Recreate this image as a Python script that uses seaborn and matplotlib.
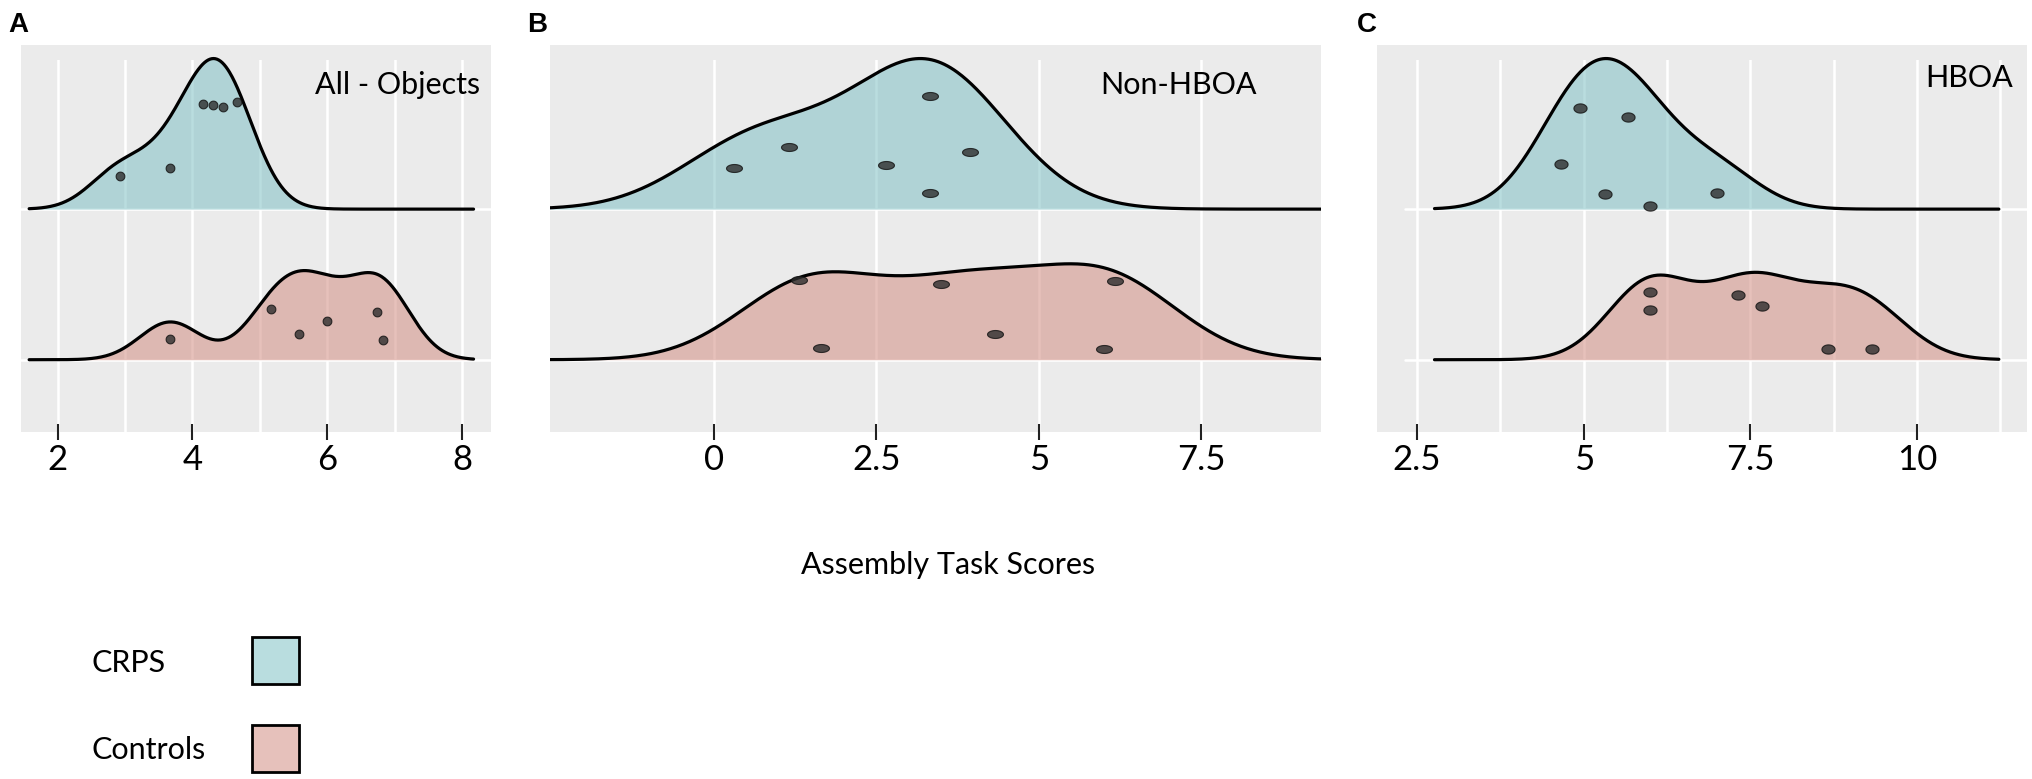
import numpy as np
import seaborn as sns
import matplotlib.pyplot as plt
from matplotlib.colors import to_rgba
from matplotlib.patches import Rectangle
from matplotlib.path import Path
from matplotlib.transforms import Affine2D

# ---- values ----
groups = ["CRPS", "Controls"]
titles = ["All - Objects", "Non-HBOA", "HBOA"]
letters = ["A", "B", "C"]

all_crps = [2.92, 3.67, 4.16, 4.31, 4.45, 4.66]
all_ctrl = [3.67, 5.17, 5.58, 6.00, 6.74, 6.83]
non_crps = [0.31, 1.16, 2.65, 3.33, 3.33, 3.94]
non_ctrl = [1.31, 1.65, 3.50, 4.32, 6.17, 6.00]
hboa_crps = [4.95, 5.66, 4.66, 5.32, 6.00, 7.00]
hboa_ctrl = [6.00, 6.00, 7.32, 7.67, 8.66, 9.33]

# vertical jitter of the points above their ridge baseline
all_crps_jit = [0.22, 0.27, 0.70, 0.69, 0.68, 0.71]
all_ctrl_jit = [0.14, 0.34, 0.17, 0.26, 0.32, 0.13]
non_crps_jit = [0.27, 0.41, 0.29, 0.75, 0.11, 0.38]
non_ctrl_jit = [0.53, 0.08, 0.50, 0.17, 0.52, 0.07]
hboa_crps_jit = [0.67, 0.61, 0.30, 0.10, 0.02, 0.11]
hboa_ctrl_jit = [0.45, 0.33, 0.43, 0.36, 0.07, 0.07]

all_ticks, all_labels = [2, 4, 6, 8], ["2", "4", "6", "8"]
non_ticks, non_labels = [0, 2.5, 5, 7.5], ["0", "2.5", "5", "7.5"]
hboa_ticks, hboa_labels = [2.5, 5, 7.5, 10], ["2.5", "5", "7.5", "10"]

COLORS = {"CRPS": "#80c1c5", "Controls": "#d38e83"}
FILL_ALPHA = 0.55
BG = "#EBEBEB"
W, H = 2033, 779

sns.set_theme(style="darkgrid", rc={"axes.facecolor": BG, "grid.color": "white",
                                    "text.color": "black"})
plt.rcParams["font.family"] = ["Lato", "DejaVu Sans"]


def nrd0(v):
    v = np.asarray(v, float)
    q1, q3 = np.percentile(v, [25, 75])
    return 0.9 * min(v.std(ddof=1), (q3 - q1) / 1.34) * len(v) ** -0.2


def ellipse(aspect):
    t = np.linspace(0, 2 * np.pi, 41)
    return Path(np.c_[np.cos(t), aspect * np.sin(t)])


def ridges(ax, crps, ctrl, crps_jit, ctrl_jit, dot_w, dot_aspect):
    # joint bandwidth (mean of the groups' nrd0), common support for both ridges
    bw = np.mean([nrd0(crps), nrd0(ctrl)])
    pooled = np.r_[crps, ctrl]
    clip = (pooled.min() - 3 * bw, pooled.max() + 3 * bw)
    drawn = []
    for vals, base, g in [(ctrl, 1, "Controls"), (crps, 2, "CRPS")]:
        kw = dict(x=vals, ax=ax, bw_method=bw / np.std(vals, ddof=1),
                  cut=20, clip=clip, gridsize=500)
        nc = len(ax.collections)
        sns.kdeplot(**kw, fill=True, color=COLORS[g], alpha=FILL_ALPHA, linewidth=0)
        nl = len(ax.lines)
        sns.kdeplot(**kw, color="black", linewidth=2.3)
        drawn.append((base, ax.collections[nc:], ax.lines[nl:]))
    top = max(l.get_ydata().max() for _, _, ls in drawn for l in ls)
    for base, cols, ls in drawn:
        tr = Affine2D().scale(1, 1.0 / top).translate(0, base) + ax.transData
        for art in list(cols) + list(ls):
            art.set_transform(tr)
    dot = ellipse(dot_aspect)
    for vals, jit, base in [(ctrl, ctrl_jit, 1), (crps, crps_jit, 2)]:
        ax.scatter(vals, base + np.asarray(jit), marker=dot, s=dot_w ** 2,
                   facecolor="#2e2e2e", edgecolor="#111111", linewidths=0.8,
                   alpha=0.8, zorder=5)


def style(ax, xlim, ticks, labels, minor, hline_start=0.0):
    ax.set_xlim(*xlim)
    ax.set_ylim(0.52, 3.07)
    ax.set_xticks(ticks, labels)
    ax.set_xticks(minor, minor=True)
    ax.set_yticks([])
    ax.set_xlabel("")
    ax.set_ylabel("")
    ax.grid(False)
    ax.grid(which="both", axis="x", color="white", linewidth=1.8)
    for y in (1, 2):
        ax.axhline(y, xmin=hline_start, color="white", linewidth=1.8, zorder=0.6)
    # grid lines stop a little below the panel top
    ax.add_patch(Rectangle((0, 0.969), 1, 0.04, transform=ax.transAxes,
                           facecolor=BG, linewidth=0, zorder=0.7, clip_on=False))
    for s in ax.spines.values():
        s.set_visible(False)
    ax.tick_params(axis="x", which="major", bottom=True, direction="inout",
                   length=12, width=1.5, color="#222222", pad=3,
                   labelsize=25, labelcolor="black")
    ax.tick_params(axis="x", which="minor", bottom=False, length=0)


fig = plt.figure(figsize=(W / 100, H / 100), dpi=100)
bottom, height = (H - 432) / H, 384 / H
axA = fig.add_axes([21 / W, bottom, 470 / W, height])
axB = fig.add_axes([550 / W, bottom, 771 / W, height])
axC = fig.add_axes([1377 / W, bottom, 650 / W, height])

ridges(axA, all_crps, all_ctrl, all_crps_jit, all_ctrl_jit, 6.3, 1.0)
ridges(axB, non_crps, non_ctrl, non_crps_jit, non_ctrl_jit, 11.5, 0.5)
ridges(axC, hboa_crps, hboa_ctrl, hboa_crps_jit, hboa_ctrl_jit, 9.5, 0.7)

style(axA, (1.458, 8.43), all_ticks, all_labels, [3, 5, 7])
style(axB, (-2.526, 9.348), non_ticks, non_labels, [])
style(axC, (1.9, 11.65), hboa_ticks, hboa_labels, [3.75, 6.25, 8.75, 11.25],
      hline_start=0.043)

axA.text(0.977, 0.904, titles[0], transform=axA.transAxes, ha="right",
         va="center", fontsize=22, color="black")
axB.text(0.917, 0.904, titles[1], transform=axB.transAxes, ha="right",
         va="center", fontsize=22, color="black")
axC.text(0.978, 0.922, titles[2], transform=axC.transAxes, ha="right",
         va="center", fontsize=22, color="black")

for lx, letter in zip([8, 527, 1357], letters):
    fig.text(lx / W, 1 - 25 / H, letter, ha="left", va="center", fontsize=20,
             fontweight="bold", color="black",
             family=["Liberation Sans", "DejaVu Sans"])

fig.text(948 / W, 1 - 565 / H, "Assembly Task Scores", ha="center",
         va="center", fontsize=22, color="black")

# legend: labels on the left, swatches in a column to the right
for g, ty, by in [("CRPS", 663, 637), ("Controls", 750, 725)]:
    fig.text(92 / W, 1 - ty / H, g, ha="left", va="center", fontsize=22,
             color="black")
    fig.add_artist(Rectangle((252 / W, 1 - (by + 47) / H), 47 / W, 47 / H,
                             transform=fig.transFigure,
                             facecolor=to_rgba(COLORS[g], FILL_ALPHA),
                             edgecolor="black", linewidth=2))

fig.savefig("out.png", dpi=100)
